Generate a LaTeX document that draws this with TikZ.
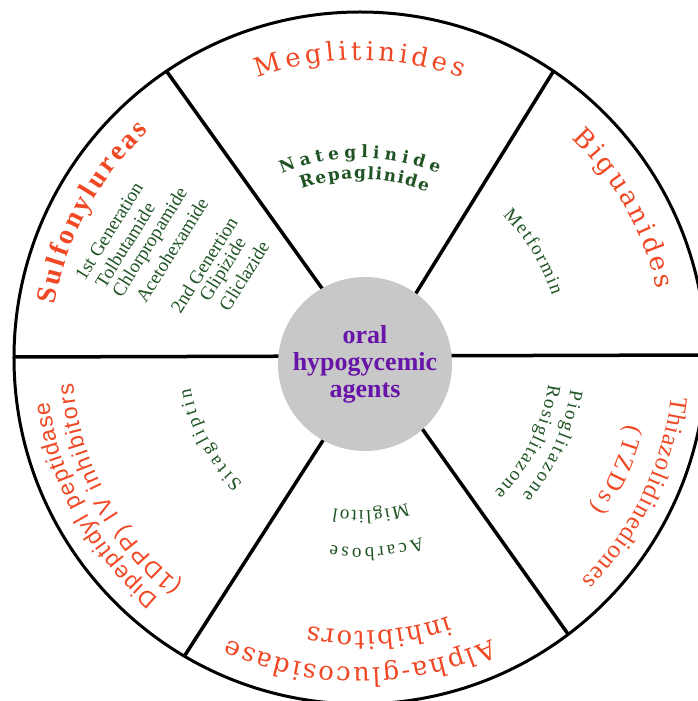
\documentclass[tikz,border=0pt]{standalone}
\usepackage{fontspec}
\setmainfont{Liberation Serif}
\newfontfamily\wideserif{DejaVu Serif}
\newfontfamily\plainsans{Liberation Sans}
\usepackage{xcolor}
\usepackage{tikz}
\usetikzlibrary{decorations.text}
\definecolor{classred}{RGB}{240,72,36}
\definecolor{druggreen}{RGB}{32,84,36}
\definecolor{hubpurple}{RGB}{104,20,168}
\definecolor{hubgray}{RGB}{200,200,200}
\newcommand{\redwide}{\color{classred}\wideserif\fontsize{26}{28}\selectfont}
\newcommand{\redtimes}{\color{classred}\fontsize{25}{28}\selectfont}
\newcommand{\redbold}{\color{classred}\bfseries\fontsize{28}{30}\selectfont}
\newcommand{\redsans}{\color{classred}\plainsans\fontsize{23}{26}\selectfont}
\newcommand{\greenwide}{\color{druggreen}\wideserif\bfseries\fontsize{17}{20}\selectfont}
\newcommand{\greentimes}{\color{druggreen}\fontsize{19}{22}\selectfont}
\tikzset{
    rim/.style={
        draw=black,
        line width=3pt
    },
    spoke/.style={
        draw=black,
        line width=3.5pt
    },
    hub/.style={
        circle,
        fill=hubgray,
        minimum size=174pt,
        inner sep=0pt,
        align=center,
        text=hubpurple,
        font=\fontsize{26}{27}\selectfont\bfseries
    },
    labelarc/.style 2 args={
        decorate,
        decoration={text along path, text={|#1|#2}, text align=fit to path}
    },
    drugtext/.style={
        text=druggreen,
        inner sep=0pt,
        rotate=58,
        font=\fontsize{19}{22}\selectfont
    }
}

\begin{document}
\begin{tikzpicture}[x=1pt, y=1pt]

\useasboundingbox (-360,-343) rectangle (338,358);
\fill[white] (-360,-343) rectangle (338,358);
\clip (-360,-343) rectangle (338,358);

% Wheel
\coordinate (wheel) at (0,0);
\coordinate (spokehub) at (14,-3);
\coordinate (rimNW) at (124:346);
\coordinate (rimNE) at (56:346);
\coordinate (rimSE) at (-53:346);
\coordinate (rimSW) at (-120.5:346);
\coordinate (rimW) at (-346,1);
\coordinate (rimE) at (346,3);

\draw[rim] (wheel) circle[radius=346];
\draw[spoke] (spokehub) -- (rimNW);
\draw[spoke] (spokehub) -- (rimNE);
\draw[spoke] (spokehub) -- (rimSE);
\draw[spoke] (spokehub) -- (rimSW);
\draw[spoke] (rimW) -- (rimE);

% Centre
\node[hub] (agents) at (5,-6) {oral\\hypogycemic\\agents};

% Meglitinides
\path[labelarc={\redwide}{Meglitinides}] (110:298) arc[start angle=110, end angle=70, radius=298];
\path[labelarc={\greenwide}{Nateglinide}] (113:200) arc[start angle=113, end angle=67, radius=200];
\path[labelarc={\greenwide}{Repaglinide}] (109:179) arc[start angle=109, end angle=68, radius=179];

% Biguanides
\path[labelarc={\redwide}{Biguanides}] (46:305) arc[start angle=46, end angle=13, radius=305];
\path[labelarc={\greentimes}{Metformin}] (45:202) arc[start angle=45, end angle=18, radius=202];

% Thiazolidinediones
\path[labelarc={\redtimes}{Thiazolidinediones}] (-7:314) arc[start angle=-7, end angle=-45, radius=314];
\path[labelarc={\redtimes}{(TZDs)}] (-14:276) arc[start angle=-14, end angle=-33, radius=276];
\path[labelarc={\greentimes}{Pioglitazone}] (-8.5:213) arc[start angle=-8.5, end angle=-40.5, radius=213];
\path[labelarc={\greentimes}{Rosiglitazone}] (-8:190) arc[start angle=-8, end angle=-45, radius=190];

% Alpha-glucosidase inhibitors
\path[labelarc={\redwide}{Alpha-glucosidase}] (-65:310) arc[start angle=-65, end angle=-115, radius=310];
\path[labelarc={\redwide}{inhibitors}] (-71:273) arc[start angle=-71, end angle=-101, radius=273];
\path[labelarc={\greentimes}{Acarbose}] (-71:190) arc[start angle=-71, end angle=-99, radius=190];
\path[labelarc={\greentimes}{Miglitol}] (-72:153) arc[start angle=-72, end angle=-100, radius=153];

% DPP-4 inhibitors
\path[labelarc={\redsans}{Dipeptidyl peptidase}] (-130:314) arc[start angle=-130, end angle=-172, radius=314];
\path[labelarc={\redsans}{(1DPP) IV inhibitors}] (-128:288) arc[start angle=-128, end angle=-175, radius=288];
\path[labelarc={\greentimes}{Sitagliptin}] (-133:172) arc[start angle=-133, end angle=-170, radius=172];

% Sulfonylureas
\path[labelarc={\redbold}{Sulfonylureas}] (170:310) arc[start angle=170, end angle=133, radius=310];
\node[drugtext] (gen1) at (-251,127) {1st Generation};
\node[drugtext] (tolb) at (-235,113) {Tolbutamide};
\node[drugtext] (chlor) at (-209,115) {Chlorpropamide};
\node[drugtext] (aceto) at (-188,108) {Acetohexamide};
\node[drugtext] (gen2) at (-156,93) {2nd Genertion};
\node[drugtext] (glip) at (-136,88) {Glipizide};
\node[drugtext] (glic) at (-116,82) {Gliclazide};

\end{tikzpicture}
\end{document}
